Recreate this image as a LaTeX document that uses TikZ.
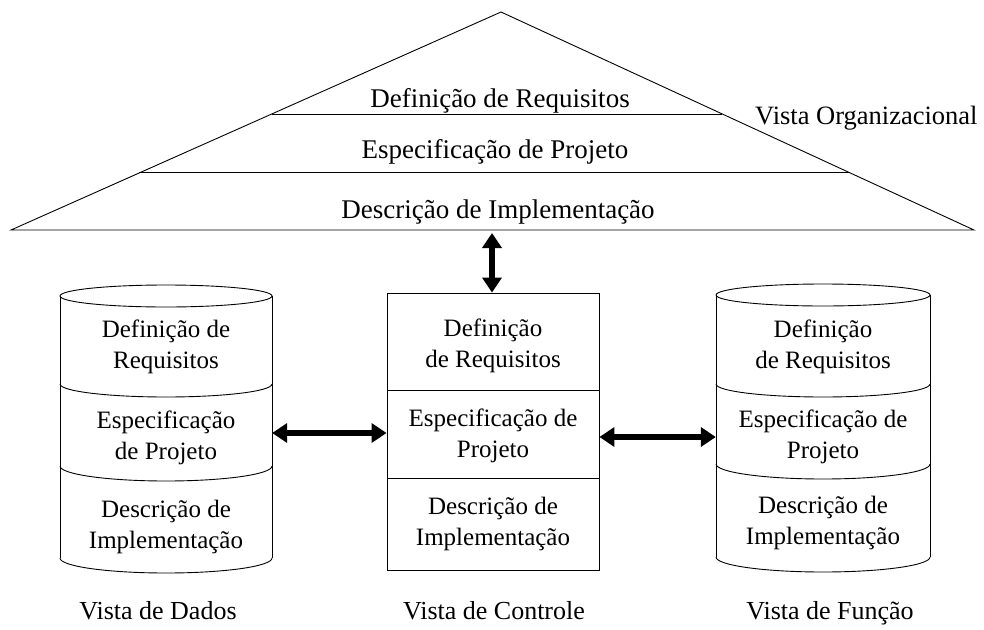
\documentclass[tikz,border=0pt]{standalone}
\usepackage{fontspec}
\setmainfont{Liberation Serif}
\usetikzlibrary{arrows.meta,calc}
\begin{document}
\begin{tikzpicture}[x=1pt,y=-1pt,
  thin line/.style={line width=0.9pt},
  txt/.style={font=\fontsize{25}{31}\selectfont, align=center, inner sep=0pt},
  ptxt/.style={font=\fontsize{27}{32}\selectfont, inner sep=0pt, anchor=base},
  ltxt/.style={font=\fontsize{26}{31}\selectfont, inner sep=0pt, anchor=base},
  bigarrow/.style={line width=6pt, {Triangle[width=19pt,length=15pt]}-{Triangle[width=19pt,length=15pt]}},
  hidden/.style={inner sep=0pt, minimum width=212pt, minimum height=262pt}]
\useasboundingbox (0,0) rectangle (984,629);
% pyramid
\coordinate (apex) at (501,12);
\coordinate (bl) at (11,230);
\coordinate (br) at (974,230);
\draw[thin line] (bl) -- (apex) -- (br) -- cycle;
\draw[thin line] ($(apex)!0.468!(bl)$) -- ($(apex)!0.468!(br)$);
\draw[thin line] ($(apex)!0.738!(bl)$) -- ($(apex)!0.738!(br)$);
\node[ptxt] (p1) at (500,107) {Definição de Requisitos};
\node[ptxt] (p2) at (495,158) {Especificação de Projeto};
\node[ptxt] (p3) at (498,218) {Descrição de Implementação};
\node[font=\fontsize{26.5}{31}\selectfont, inner sep=0pt, anchor=base west] (org) at (755,124) {Vista Organizacional};
% left cylinder
\begin{scope}
\def\xl{60}\def\xr{272}\def\cx{166}
\draw[thin line] (\cx,296) ellipse [x radius=106pt, y radius=11pt];
\draw[thin line] (\xl,296) -- (\xl,558);
\draw[thin line] (\xr,296) -- (\xr,558);
\draw[thin line] (\xl,384) arc[start angle=180, end angle=360, x radius=106pt, y radius=13pt];
\draw[thin line] (\xl,466) arc[start angle=180, end angle=360, x radius=106pt, y radius=15pt];
\draw[thin line] (\xl,558) arc[start angle=180, end angle=360, x radius=106pt, y radius=15pt];
\end{scope}
\node[hidden] (dados) at (166,433) {};
\node[txt] (d1) at (166,347) {Definição de\\Requisitos};
\node[txt] (d2) at (166,438) {Especificação\\de Projeto};
\node[txt] (d3) at (166,527) {Descrição de\\Implementação};
% center box
\node[draw, thin line, minimum width=212pt, minimum height=277pt, inner sep=0pt] (ctrl) at (493,431.5) {};
\draw[thin line] (387,390) -- (599,390);
\draw[thin line] (387,478) -- (599,478);
\node[txt] (c1) at (493,346) {Definição\\de Requisitos};
\node[txt] (c2) at (493,436) {Especificação de\\Projeto};
\node[txt] (c3) at (493,524) {Descrição de\\Implementação};
% right cylinder
\begin{scope}
\def\xl{716}\def\xr{930}\def\cx{823}
\draw[thin line] (\cx,295) ellipse [x radius=107pt, y radius=11pt];
\draw[thin line] (\xl,295) -- (\xl,557);
\draw[thin line] (\xr,295) -- (\xr,557);
\draw[thin line] (\xl,384) arc[start angle=180, end angle=360, x radius=107pt, y radius=13pt];
\draw[thin line] (\xl,464) arc[start angle=180, end angle=360, x radius=107pt, y radius=15pt];
\draw[thin line] (\xl,557) arc[start angle=180, end angle=360, x radius=107pt, y radius=15pt];
\end{scope}
\node[hidden, minimum width=214pt] (funcao) at (823,433) {};
\node[txt] (f1) at (823,347) {Definição\\de Requisitos};
\node[txt] (f2) at (823,437) {Especificação de\\Projeto};
\node[txt] (f3) at (823,523) {Descrição de\\Implementação};
% arrows
\coordinate (pbase) at (492,233);
\draw[bigarrow] (pbase) -- (ctrl.north -| pbase);
\draw[bigarrow] (dados.east |- 0,433) -- (ctrl.west |- 0,433);
\draw[bigarrow] (ctrl.east |- 0,437) -- (funcao.west |- 0,437);
% labels
\node[ltxt] (ld) at (158,619) {Vista de Dados};
\node[ltxt] (lc) at (494,619) {Vista de Controle};
\node[ltxt] (lf) at (830,619) {Vista de Função};
\end{tikzpicture}
\end{document}
